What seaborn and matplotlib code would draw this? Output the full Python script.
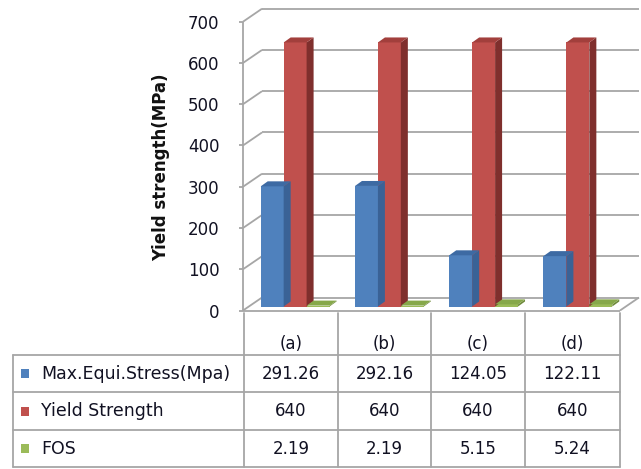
import matplotlib
matplotlib.use("Agg")
import matplotlib.pyplot as plt
import seaborn as sns
import pandas as pd
from matplotlib.patches import Polygon, Rectangle
from matplotlib.lines import Line2D
from matplotlib.transforms import offset_copy

categories = ["(a)", "(b)", "(c)", "(d)"]
series_names = ["Max.Equi.Stress(Mpa)", "Yield Strength", "FOS"]
max_equi_stress = [291.26, 292.16, 124.05, 122.11]
yield_strength = [640, 640, 640, 640]
fos = [2.19, 2.19, 5.15, 5.24]
value_labels = [["291.26", "292.16", "124.05", "122.11"],
                ["640", "640", "640", "640"],
                ["2.19", "2.19", "5.15", "5.24"]]
yticks = [0, 100, 200, 300, 400, 500, 600, 700]

colors = ["#4F81BD", "#C0504D", "#9BBB59"]
side_colors = ["#3A6296", "#7F2F2D", "#6F8A3C"]
top_colors = ["#3D6AA3", "#A23F3C", "#86A84A"]

df = pd.DataFrame({
    "cat": categories * 3,
    "series": sum([[s] * 4 for s in series_names], []),
    "val": max_equi_stress + yield_strength + fos,
})

sns.set_style("white")
plt.rcParams["font.family"] = ["DejaVu Sans"]

W, H = 641, 469
fig = plt.figure(figsize=(W / 100, H / 100), dpi=100)
def fx(px): return px / W
def fy(py): return 1 - py / H

AX_L, AX_R, AX_B, AX_T = 243, 620, 310.5, 21.7
ax = fig.add_axes([fx(AX_L), fy(AX_B), fx(AX_R) - fx(AX_L), fy(AX_T) - fy(AX_B)])
sns.barplot(data=df, x="cat", y="val", hue="series", palette=colors,
            width=0.73, saturation=1, ax=ax, legend=False, edgecolor="none")
ax.set_ylim(0, 700)
ax.set_xlim(-0.5, 3.5)
ax.set_yticks(yticks)
ax.set_yticklabels([str(t) for t in yticks], fontsize=12, color="#111122")
ax.tick_params(axis="y", length=0, pad=17)
ax.set_xticks([])
ax.set_xlabel("")
ax.set_ylabel("Yield strength(MPa)", fontsize=12, fontweight="bold", color="#111111")
ax.yaxis.set_label_coords((170 - AX_L) / (AX_R - AX_L), (AX_B - 167) / (AX_B - AX_T))
ax.grid(False)
for s in ax.spines.values():
    s.set_visible(False)

# pixel -> data conversions
px_x = (AX_R - AX_L) / 4.0
px_y = (AX_B - AX_T) / 700.0
gdx, gdy = 19 / px_x, 13 / px_y      # wall depth
bdx, bdy = 7 / px_x, 5 / px_y        # bar depth
x0l, x1r = -0.5, 3.5
gc = "#A6A6A6"
kw = dict(color=gc, lw=1.3, zorder=0, clip_on=False, solid_capstyle="butt")

for t in yticks:
    ax.plot([x0l + gdx, x1r + gdx], [t + gdy, t + gdy], **kw)
    ax.plot([x0l, x0l + gdx], [t, t + gdy], **kw)
    ax.plot([x0l - 4 / px_x, x0l], [t, t], **kw)
ax.plot([x0l, x0l], [0, 700], **kw)
ax.plot([x0l, x1r], [0, 0], **kw)
ax.plot([x1r, x1r + gdx], [0, gdy], **kw)

# shift bars slightly back into the depth and add 3D faces
shift = offset_copy(ax.transData, fig=fig, x=5, y=4, units="dots")
bars = list(ax.patches)
for i, p in enumerate(bars):
    si = i // 4
    p.set_transform(shift)
    x0, w, h = p.get_x(), p.get_width(), p.get_height()
    side = Polygon([(x0 + w, 0), (x0 + w + bdx, bdy), (x0 + w + bdx, h + bdy), (x0 + w, h)],
                   closed=True, facecolor=side_colors[si], edgecolor="none",
                   zorder=p.get_zorder(), transform=shift)
    top = Polygon([(x0, h), (x0 + w, h), (x0 + w + bdx, h + bdy), (x0 + bdx, h + bdy)],
                  closed=True, facecolor=top_colors[si], edgecolor="none",
                  zorder=p.get_zorder(), transform=shift)
    ax.add_patch(side)
    ax.add_patch(top)

# data table
cols_px = [13, 244, 338, 431, 525, 620]
rows_px = [313, 355, 392, 430, 467]
def hline(y, xa, xb):
    fig.add_artist(Line2D([fx(xa), fx(xb)], [fy(y), fy(y)], color=gc, lw=1.3))
def vline(x, ya, yb):
    fig.add_artist(Line2D([fx(x), fx(x)], [fy(ya), fy(yb)], color=gc, lw=1.3))

for y in rows_px[1:]:
    hline(y, cols_px[0], cols_px[-1])
for x in cols_px[1:]:
    vline(x, rows_px[0], rows_px[-1])
vline(cols_px[0], rows_px[1], rows_px[-1])

tc = "#111122"
for j, c in enumerate(categories):
    xc = (cols_px[j + 1] + cols_px[j + 2]) / 2
    fig.text(fx(xc), fy(344), c, ha="center", va="center", fontsize=12, color=tc)

for r, name in enumerate(series_names):
    yc = (rows_px[r + 1] + rows_px[r + 2]) / 2
    fig.add_artist(Rectangle((fx(21), fy(yc + 4.5)), fx(8), fy(yc - 4.5) - fy(yc + 4.5),
                             facecolor=colors[r], edgecolor="none"))
    fig.text(fx(41), fy(yc), name, ha="left", va="center", fontsize=12.5, color=tc)
    for j in range(4):
        xc = (cols_px[j + 1] + cols_px[j + 2]) / 2
        fig.text(fx(xc), fy(yc), value_labels[r][j], ha="center", va="center",
                 fontsize=12, color=tc)

fig.savefig("out.png", dpi=100)
